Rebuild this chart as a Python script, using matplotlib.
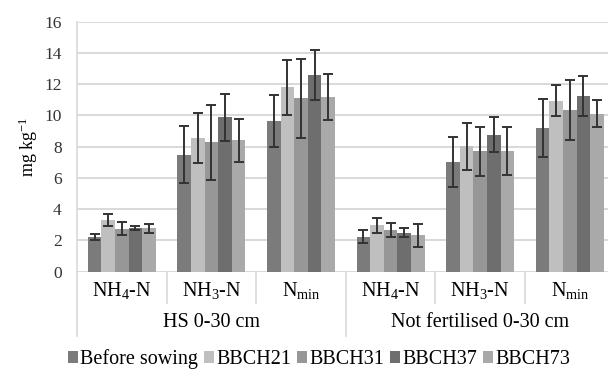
import numpy as np
import matplotlib
matplotlib.use("Agg")
import matplotlib.pyplot as plt
import matplotlib.transforms as mtransforms

plt.rcParams['font.family'] = ['Liberation Serif', 'DejaVu Serif']
plt.rcParams['mathtext.fontset'] = 'custom'
plt.rcParams['mathtext.rm'] = 'Liberation Serif'
plt.rcParams['mathtext.it'] = 'Liberation Serif:italic'

categories = ["NH$_4$-N", "NH$_3$-N", "N$_{\\mathrm{min}}$",
              "NH$_4$-N", "NH$_3$-N", "N$_{\\mathrm{min}}$"]
groups = ["HS 0-30 cm", "Not fertilised 0-30 cm"]
series = ["Before sowing", "BBCH21", "BBCH31", "BBCH37", "BBCH73"]

before_sowing = [2.24, 7.50, 9.66, 2.24, 6.99, 9.21]
bbch21 = [3.30, 8.57, 11.80, 2.96, 8.04, 10.94]
bbch31 = [2.75, 8.27, 11.09, 2.64, 7.70, 10.36]
bbch37 = [2.77, 9.87, 12.58, 2.49, 8.78, 11.24]
bbch73 = [2.77, 8.40, 11.17, 2.32, 7.74, 10.10]

err_before = [0.20, 1.80, 1.67, 0.42, 1.60, 1.86]
err_21 = [0.40, 1.60, 1.74, 0.48, 1.50, 1.00]
err_31 = [0.40, 2.40, 2.54, 0.45, 1.57, 1.92]
err_37 = [0.13, 1.50, 1.58, 0.28, 1.14, 1.27]
err_73 = [0.27, 1.40, 1.47, 0.75, 1.54, 0.87]

values = [before_sowing, bbch21, bbch31, bbch37, bbch73]
errors = [err_before, err_21, err_31, err_37, err_73]
colors = ["#7b7b7b", "#bfbfbf", "#979797", "#6e6e6e", "#a9a9a9"]

fig = plt.figure(figsize=(6.08, 3.69), dpi=100)
ax = fig.add_axes([77 / 608, 97.3 / 369, 531 / 608, 250 / 369])

x = np.arange(len(categories)) + 0.5
bar_w = 0.152
for i, (vals, errs, col) in enumerate(zip(values, errors, colors)):
    pos = x + (i - 2) * bar_w
    ax.bar(pos, vals, width=bar_w, color=col, label=series[i], zorder=2)
    ax.errorbar(pos, vals, yerr=errs, fmt='none', ecolor='#333333',
                elinewidth=1.4, capsize=3.5, capthick=1.4, zorder=3)

ax.set_xlim(0, 531 / 89.6)
ax.set_ylim(0, 16)
ax.set_yticks(range(0, 17, 2))
ax.yaxis.grid(True, color='#d9d9d9', linewidth=1.4, zorder=0)
ax.set_axisbelow(True)
for s in ['top', 'right', 'bottom']:
    ax.spines[s].set_visible(False)
ax.spines['left'].set_color('#d9d9d9')
ax.spines['left'].set_linewidth(1.2)
ax.tick_params(axis='y', length=0, labelsize=12.5, colors='#333333', pad=11)
ax.tick_params(axis='x', length=0)
ax.set_xticks([])
ax.set_ylabel("mg kg$^{-1}$", fontsize=13, labelpad=3)

trans = mtransforms.blended_transform_factory(ax.transData, ax.transAxes)
for b in [1, 2, 4, 5]:
    ax.plot([b, b], [0, -31 / 250], transform=trans, color='#d9d9d9',
            linewidth=1.2, clip_on=False)
for b in [0, 3, 6]:
    ax.plot([b, b], [0, -64 / 250], transform=trans, color='#d9d9d9',
            linewidth=1.2, clip_on=False)

for xi, lab in zip(x, categories):
    ax.text(xi, -19 / 250, lab, transform=trans, ha='center', va='center',
            fontsize=14.5)
for gi, lab in enumerate(groups):
    ax.text(gi * 3 + 1.5, -51 / 250, lab, transform=trans, ha='center',
            va='center', fontsize=14.5)

leg = fig.legend(loc='center', bbox_to_anchor=(0.525, 10 / 369), ncol=5,
                 frameon=False, fontsize=14.5, handlelength=0.5,
                 handleheight=0.5, handletextpad=0.1, columnspacing=0.3)

fig.savefig("out.png", dpi=100)
